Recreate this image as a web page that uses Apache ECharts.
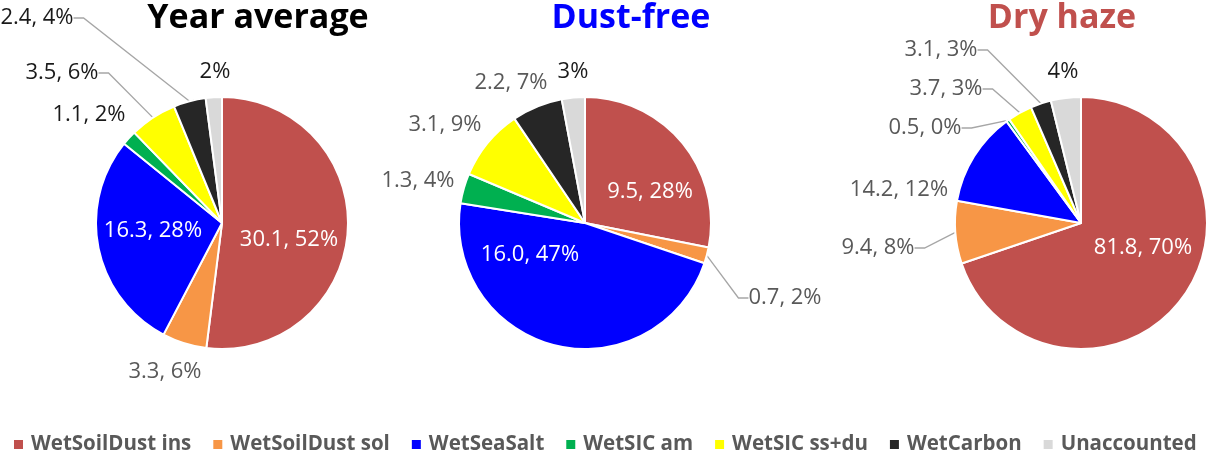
<!DOCTYPE html>
<html>
<head>
<meta charset="utf-8">
<script src="https://cdn.jsdelivr.net/npm/echarts@6/dist/echarts.min.js"></script>
<style>
  html, body { margin: 0; padding: 0; background: #fff; }
  #chart { width: 1210px; height: 451px; }
</style>
</head>
<body>
<div id="chart"></div>
<script>
// components (legend order)
const categories = ['WetSoilDust ins', 'WetSoilDust sol', 'WetSeaSalt', 'WetSIC am', 'WetSIC ss+du', 'WetCarbon', 'Unaccounted']
const colors = ['#C0504D', '#F79646', '#0000FF', '#00B050', '#FFFF00', '#262626', '#D9D9D9']

// values
const yearAverage = [30.1, 3.3, 16.3, 1.1, 3.5, 2.4, 1.2]
const dustFree = [9.5, 0.7, 16.0, 1.3, 3.1, 2.2, 1.0]
const dryHaze = [81.8, 9.4, 14.2, 0.5, 3.7, 3.1, 4.5]

const titles = ['Year average', 'Dust-free', 'Dry haze']
const titleColors = ['#000000', '#0000FF', '#C0504D']

const FONT = '"Open Sans", "Noto Sans", sans-serif'
const GRAY = '#595959'

// per pie: which slices get a leader line / a white (inside) label / a black label
const pies = [
  {
    values: yearAverage, center: [222, 223], titleX: 253,
    inside: [0, 2], lines: [4, 5], dark: [3, 4, 5, 6],
    // label anchor points (text centres)
    labelAt: [[289, 240], [165, 372], [153, 231], [89, 115], [62, 73], [37, 18], [215, 72]]
  },
  {
    values: dustFree, center: [585, 223], titleX: 626,
    inside: [0, 2], lines: [1], dark: [6],
    labelAt: [[650, 192], [785, 298], [530, 255], [418, 181], [445, 125], [511, 83], [573, 72]]
  },
  {
    values: dryHaze, center: [1081, 223], titleX: 1057,
    inside: [0], lines: [1, 3, 4, 5], dark: [6],
    labelAt: [[1143, 248], [878, 248], [899, 190], [925, 128], [946, 89], [941, 50], [1063, 72]]
  }
]

const chart = echarts.init(document.getElementById('chart'))

const series = pies.map((p, si) => ({
  type: 'pie',
  name: titles[si],
  center: p.center,
  radius: 126,
  startAngle: 90,
  clockwise: true,
  avoidLabelOverlap: false,
  silent: true,
  itemStyle: { borderColor: '#fff', borderWidth: 2 },
  label: {
    show: true,
    fontFamily: FONT,
    fontSize: 22,
    formatter: (params) => {
      const pct = Math.round(params.percent) + '%'
      if (params.dataIndex === 6) return pct
      return params.value.toFixed(1) + ', ' + pct
    }
  },
  labelLine: {
    show: false,
    length: 8,
    length2: 10,
    smooth: false,
    lineStyle: { color: '#A6A6A6', width: 1.3 }
  },
  labelLayout: (params) => {
    const pos = p.labelAt[params.dataIndex]
    return { x: pos[0], y: pos[1], align: 'center', verticalAlign: 'middle' }
  },
  data: p.values.map((v, i) => ({
    name: categories[i],
    value: v,
    itemStyle: { color: colors[i] },
    label: {
      position: p.inside.includes(i) ? 'inside' : 'outside',
      color: p.inside.includes(i) ? '#FFFFFF' : (p.dark.includes(i) ? '#1a1a1a' : GRAY)
    },
    labelLine: { show: p.lines.includes(i) }
  }))
}))

chart.setOption({
  animation: false,
  backgroundColor: '#fff',
  title: pies.map((p, i) => ({
    text: titles[i],
    left: p.titleX,
    top: -4,
    textAlign: 'center',
    textStyle: {
      fontFamily: FONT,
      fontSize: 34,
      fontWeight: 'bold',
      color: titleColors[i]
    }
  })),
  legend: {
    data: categories,
    left: 12,
    right: 0,
    top: 434,
    padding: 0,
    icon: 'rect',
    itemWidth: 11,
    itemHeight: 11,
    itemGap: 20,
    selectedMode: false,
    textStyle: {
      fontFamily: FONT,
      fontSize: 20.5,
      fontWeight: 'bold',
      color: GRAY,
      padding: [0, 0, 0, 2]
    }
  },
  series: series
})

window.addEventListener('resize', () => {
  chart.resize()
})
</script>
</body>
</html>
